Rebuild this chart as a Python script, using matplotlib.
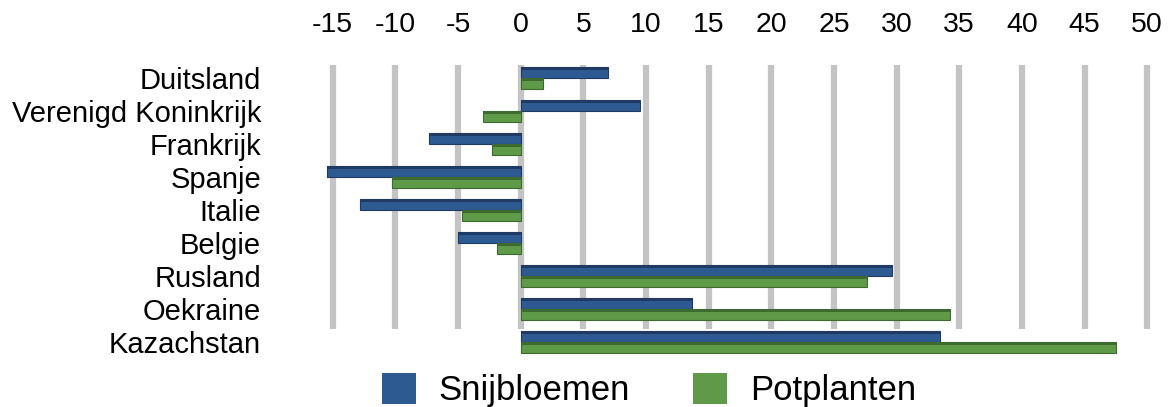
import matplotlib
matplotlib.use("Agg")
import matplotlib.pyplot as plt
from matplotlib.patches import Patch
import numpy as np

plt.rcParams['font.family'] = ['Liberation Sans', 'DejaVu Sans']

# data
landen = ["Duitsland", "Verenigd Koninkrijk", "Frankrijk", "Spanje", "Italie",
          "Belgie", "Rusland", "Oekraine", "Kazachstan"]
snijbloemen = [7.0, 9.5, -7.3, -15.5, -12.8, -5.0, 29.6, 13.7, 33.5]
potplanten = [1.8, -3.0, -2.3, -10.3, -4.7, -1.9, 27.6, 34.3, 47.5]
x_ticks = list(range(-15, 55, 5))

blauw = '#2e5a92'
blauw_donker = '#1f3a63'
groen = '#5e9a48'
groen_donker = '#3d6a2e'

fig = plt.figure(figsize=(11.69, 4.07), dpi=100)
ax = fig.add_axes([0.2686, 0.1106, 0.7288, 0.746])

y = np.arange(len(landen))
h = 0.33

# grid lines (back wall)
ax.vlines(x_ticks, -0.4, 7.6, color='#c4c4c4', linewidth=4.5, zorder=0)

# bars, with a darker strip on top for a bit of depth
ax.barh(y - 0.17, snijbloemen, height=h, color=blauw, edgecolor=blauw_donker,
        linewidth=0.8, zorder=2)
ax.barh(y - 0.17 - h / 2 + 0.04, snijbloemen, height=0.08, color=blauw_donker,
        linewidth=0, zorder=3)
ax.barh(y + 0.17, potplanten, height=h, color=groen, edgecolor=groen_donker,
        linewidth=0.8, zorder=2)
ax.barh(y + 0.17 - h / 2 + 0.04, potplanten, height=0.08, color=groen_donker,
        linewidth=0, zorder=3)

ax.set_xlim(-16.5, 51.5)
ax.set_ylim(8.6, -0.6)
ax.set_xticks(x_ticks)
ax.set_xticklabels([str(t) for t in x_ticks], fontsize=20.5)
ax.xaxis.tick_top()
ax.tick_params(axis='x', length=0, pad=15)
ax.set_yticks(y)
ax.set_yticklabels(landen, fontsize=21)
ax.tick_params(axis='y', length=0, pad=38)
for s in ax.spines.values():
    s.set_visible(False)

handles = [Patch(facecolor=blauw, label='Snijbloemen'),
           Patch(facecolor=groen, label='Potplanten')]
fig.legend(handles=handles, loc='lower center', ncol=2, frameon=False,
           fontsize=25, bbox_to_anchor=(0.555, -0.078), handlelength=1.0,
           handleheight=1.0, handletextpad=0.65, columnspacing=1.8)

fig.savefig('out.png', dpi=100)
